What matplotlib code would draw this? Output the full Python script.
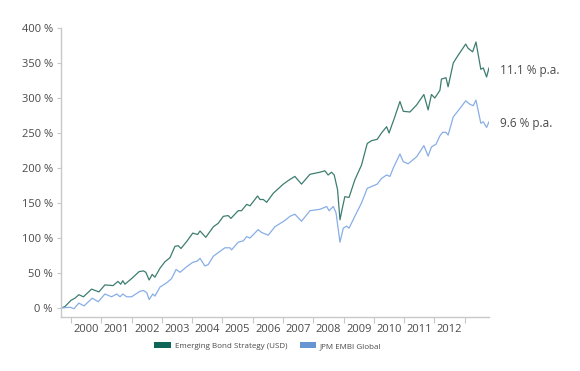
import matplotlib
matplotlib.use("Agg")
import matplotlib.pyplot as plt
from matplotlib.ticker import FixedLocator, NullFormatter, FixedFormatter
from matplotlib.patches import Patch

plt.rcParams['font.family'] = ['Open Sans', 'DejaVu Sans']

# Emerging Bond Strategy (USD): decimal year, cumulative %
ebs_t = [1999.67, 1999.80, 2000.00, 2000.13, 2000.26, 2000.41, 2000.68, 2000.92, 2001.12, 2001.39,
         2001.55, 2001.64, 2001.71, 2001.78, 2002.00, 2002.25, 2002.39, 2002.47, 2002.58, 2002.68,
         2002.77, 2002.94, 2003.10, 2003.27, 2003.43, 2003.54, 2003.63, 2003.82, 2004.02, 2004.18,
         2004.26, 2004.45, 2004.70, 2004.86, 2005.03, 2005.19, 2005.28, 2005.52, 2005.63, 2005.80,
         2005.91, 2006.16, 2006.24, 2006.35, 2006.46, 2006.68, 2007.01, 2007.17, 2007.39, 2007.61,
         2007.89, 2008.22, 2008.38, 2008.49, 2008.60, 2008.69, 2008.80, 2008.88, 2008.97, 2009.04,
         2009.18, 2009.37, 2009.59, 2009.78, 2009.92, 2010.11, 2010.25, 2010.42, 2010.50, 2010.69,
         2010.86, 2010.97, 2011.19, 2011.41, 2011.65, 2011.79, 2011.90, 2012.01, 2012.18, 2012.23,
         2012.38, 2012.45, 2012.62, 2012.78, 2013.03, 2013.11, 2013.26, 2013.37, 2013.53, 2013.61,
         2013.72, 2013.80]
ebs_v = [0, 2, 11, 14, 19, 16, 27, 23, 33, 32,
         38, 34, 39, 34, 42, 52, 53, 51, 40, 48,
         44, 57, 66, 72, 88, 89, 85, 95, 107, 105,
         110, 101, 116, 121, 131, 132, 128, 139, 139, 148,
         146, 160, 155, 155, 151, 164, 177, 182, 188, 177,
         191, 194, 196, 190, 194, 190, 169, 126, 145, 159,
         158, 183, 204, 235, 239, 241, 250, 259, 250, 273,
         295, 281, 280, 290, 305, 283, 305, 300, 311, 327,
         329, 316, 350, 361, 377, 371, 366, 380, 341, 343,
         330, 343]

# JPM EMBI Global
embi_t = [1999.67, 1999.97, 2000.10, 2000.26, 2000.43, 2000.70, 2000.90, 2001.12, 2001.34, 2001.51,
          2001.62, 2001.71, 2001.84, 2002.00, 2002.28, 2002.39, 2002.50, 2002.58, 2002.70, 2002.77,
          2002.94, 2003.16, 2003.32, 2003.47, 2003.60, 2003.82, 2004.01, 2004.17, 2004.26, 2004.42,
          2004.53, 2004.70, 2004.92, 2005.08, 2005.25, 2005.30, 2005.52, 2005.69, 2005.80, 2005.91,
          2006.18, 2006.29, 2006.51, 2006.73, 2007.06, 2007.23, 2007.39, 2007.61, 2007.89, 2008.22,
          2008.44, 2008.52, 2008.66, 2008.75, 2008.88, 2008.99, 2009.10, 2009.18, 2009.37, 2009.59,
          2009.78, 2010.11, 2010.25, 2010.42, 2010.53, 2010.64, 2010.86, 2010.97, 2011.13, 2011.41,
          2011.65, 2011.79, 2011.90, 2012.05, 2012.18, 2012.27, 2012.38, 2012.45, 2012.62, 2012.84,
          2013.03, 2013.17, 2013.28, 2013.37, 2013.53, 2013.61, 2013.72, 2013.80]
embi_v = [0, 1, -1, 7, 3, 14, 9, 20, 16, 20,
          16, 20, 16, 16, 24, 25, 22, 12, 20, 17,
          30, 36, 42, 55, 51, 59, 65, 67, 71, 60,
          62, 74, 81, 86, 86, 83, 94, 96, 102, 100,
          112, 108, 104, 116, 125, 131, 134, 124, 139, 141,
          145, 139, 145, 136, 94, 114, 117, 114, 131, 150,
          171, 177, 185, 190, 188, 200, 220, 209, 206, 216,
          232, 217, 230, 234, 246, 251, 251, 247, 273, 285,
          296, 291, 289, 297, 264, 266, 258, 266]

years = [2000, 2001, 2002, 2003, 2004, 2005, 2006, 2007, 2008, 2009, 2010, 2011, 2012]
y_ticks = [0, 50, 100, 150, 200, 250, 300, 350, 400]
labels_pa = ["11.1 % p.a.", "9.6 % p.a."]
series_names = ["Emerging Bond Strategy (USD)", "JPM EMBI Global"]

green_line = "#3d7d70"
blue_line = "#88aee6"
green_patch = "#0f6658"
blue_patch = "#6795d2"
txt = "#4a4a4a"
spine = "#c8c8c8"

ymin = -400 * 9 / 280
fig = plt.figure(figsize=(5.8, 3.71), dpi=100)
ax = fig.add_axes([61/580, 1 - 317/371, (489 - 61)/580, (317 - 28)/371])

ax.plot(ebs_t, ebs_v, color=green_line, lw=0.9)
ax.plot(embi_t, embi_v, color=blue_line, lw=0.9)

ax.set_xlim(ebs_t[0], ebs_t[-1])
ax.set_ylim(ymin, 400)

for s in ["top", "right"]:
    ax.spines[s].set_visible(False)
for s in ["left", "bottom"]:
    ax.spines[s].set_color(spine)
    ax.spines[s].set_linewidth(1.0)

ax.yaxis.set_major_locator(FixedLocator(y_ticks))
ax.set_yticklabels([f"{v} %" for v in y_ticks])
ax.tick_params(axis="y", length=3, color=spine, labelsize=8, labelcolor=txt, pad=3)

edges = years + [years[-1] + 1]
ax.xaxis.set_major_locator(FixedLocator(edges))
ax.xaxis.set_major_formatter(NullFormatter())
ax.xaxis.set_minor_locator(FixedLocator([y + 0.5 for y in years]))
ax.xaxis.set_minor_formatter(FixedFormatter([str(y) for y in years]))
ax.tick_params(axis="x", which="major", length=4, color=spine)
ax.tick_params(axis="x", which="minor", length=0, labelsize=8, labelcolor=txt, pad=5)

span = 400 - ymin
ax.text(1.025, (ebs_v[-1] - ymin) / span - 0.01, labels_pa[0], transform=ax.transAxes,
        fontsize=8.5, color=txt, va="center", ha="left")
ax.text(1.025, (embi_v[-1] - ymin) / span - 0.005, labels_pa[1], transform=ax.transAxes,
        fontsize=8.5, color=txt, va="center", ha="left")

handles = [Patch(facecolor=green_patch, edgecolor="none"), Patch(facecolor=blue_patch, edgecolor="none")]
fig.legend(handles, series_names, loc="center", bbox_to_anchor=(268/580, 1 - 346/371), ncol=2,
           frameon=False, fontsize=5.8, labelcolor=txt, handlelength=2.0, handleheight=0.8,
           handletextpad=0.5, columnspacing=1.6)

fig.savefig("out.png", dpi=100, facecolor="white")
